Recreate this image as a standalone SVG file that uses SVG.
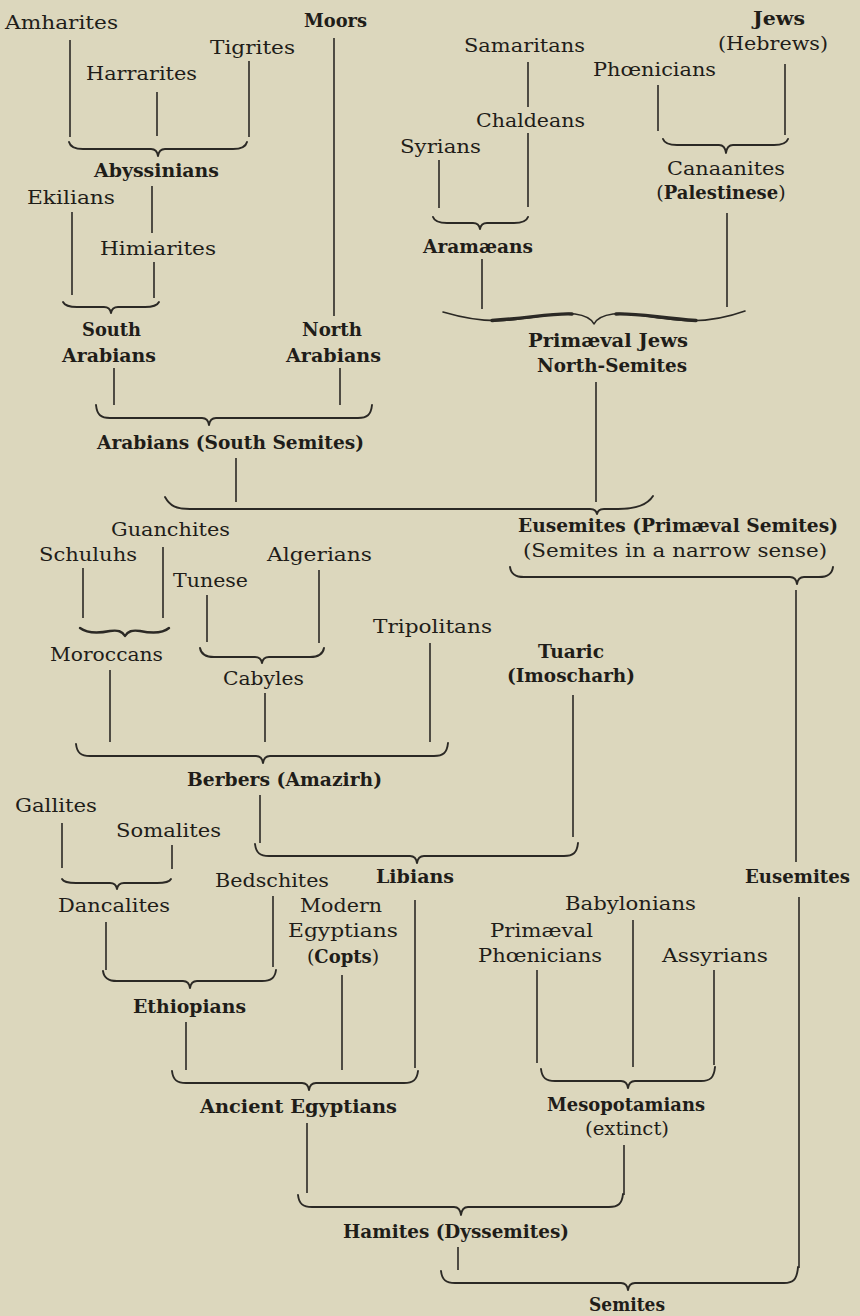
<svg xmlns="http://www.w3.org/2000/svg" width="860" height="1316" viewBox="0 0 860 1316">
<style>
.r{font-family:"DejaVu Serif","Liberation Serif",serif;font-size:19px;fill:#1f1d19}
.b{font-family:"DejaVu Serif","Liberation Serif",serif;font-size:18px;font-weight:bold;fill:#1f1d19}
.l{stroke:#2b2925;stroke-width:1.6;fill:none}
.br{stroke:#2b2925;stroke-width:1.9;fill:none;stroke-linecap:round;stroke-linejoin:round}
</style>
<rect width="860" height="1316" fill="#dcd7bd"/>
<g id="connectors">
<g class="l">
<line x1="70" y1="40" x2="70" y2="137"/>
<line x1="157" y1="92" x2="157" y2="136"/>
<line x1="249" y1="61" x2="249" y2="137"/>
<line x1="334" y1="38" x2="334" y2="316"/>
<line x1="152" y1="186" x2="152" y2="233"/>
<line x1="72" y1="212" x2="72" y2="295"/>
<line x1="154" y1="262" x2="154" y2="298"/>
<line x1="114" y1="368" x2="114" y2="405"/>
<line x1="340" y1="368" x2="340" y2="405"/>
<line x1="236" y1="458" x2="236" y2="502"/>
<line x1="528" y1="62" x2="528" y2="107"/>
<line x1="528" y1="133" x2="528" y2="207"/>
<line x1="439" y1="160" x2="439" y2="208"/>
<line x1="658" y1="85" x2="658" y2="131"/>
<line x1="785" y1="64" x2="785" y2="135"/>
<line x1="727" y1="213" x2="727" y2="307"/>
<line x1="482" y1="259" x2="482" y2="309"/>
<line x1="596" y1="382" x2="596" y2="502"/>
<line x1="83" y1="568" x2="83" y2="618"/>
<line x1="163" y1="547" x2="163" y2="618"/>
<line x1="207" y1="595" x2="207" y2="642"/>
<line x1="319" y1="570" x2="319" y2="643"/>
<line x1="430" y1="643" x2="430" y2="742"/>
<line x1="796" y1="590" x2="796" y2="862"/>
<line x1="573" y1="695" x2="573" y2="837"/>
<line x1="110" y1="670" x2="110" y2="742"/>
<line x1="265" y1="693" x2="265" y2="742"/>
<line x1="260" y1="795" x2="260" y2="843"/>
<line x1="62" y1="823" x2="62" y2="868"/>
<line x1="172" y1="845" x2="172" y2="869"/>
<line x1="273" y1="896" x2="273" y2="967"/>
<line x1="415" y1="900" x2="415" y2="1068"/>
<line x1="106" y1="922" x2="106" y2="970"/>
<line x1="342" y1="975" x2="342" y2="1070"/>
<line x1="186" y1="1022" x2="186" y2="1070"/>
<line x1="633" y1="920" x2="633" y2="1067"/>
<line x1="537" y1="970" x2="537" y2="1063"/>
<line x1="714" y1="970" x2="714" y2="1065"/>
<line x1="799" y1="897" x2="799" y2="1268"/>
<line x1="307" y1="1123" x2="307" y2="1193"/>
<line x1="624" y1="1145" x2="624" y2="1195"/>
<line x1="458" y1="1247" x2="458" y2="1270"/>
</g>
<g class="br">
<path d="M69,142 C70,146 74,149 83,149 L151,149 Q157,149 158,156 Q159,149 165,149 L233,149 C242,149 246,146 247,142"/>
<path d="M63,302 C64,304 68,307 77,307 L104,307 Q110,307 111,313 Q112,307 118,307 L145,307 C154,307 158,304 159,302"/>
<path d="M96,405 C97,415 101,418 110,418 L202,418 Q208,418 209,425 Q210,418 216,418 L358,418 C367,418 371,415 372,405"/>
<path d="M433,217 C434,220 438,223 447,223 L473,223 Q479,223 480,229 Q481,223 487,223 L514,223 C523,223 527,220 528,217"/>
<path d="M663,139 C664,142 668,145 677,145 L719,145 Q725,145 726,153 Q727,145 733,145 L774,145 C783,145 787,142 788,139"/>
<path d="M443,312 C470,320 490,322 510,320 C540,317 560,312 575,314 Q590,316 594,324 Q598,316 613,314 C628,312 648,317 678,320 C698,322 720,320 745,311" stroke-width="1.6"/>
<path d="M492,320.5 C530,318 552,313 572,314" stroke-width="3.4"/>
<path d="M616,314 C636,313 660,318 696,320.5" stroke-width="3.4"/>
<path d="M165,497 C170,506 176,509 190,509 L590,509 Q596,509 597,514 Q598,509 604,509 L618,509 C638,509 648,504 653,496"/>
<path d="M510,567 C511,574 515,577 524,577 L790,577 Q796,577 797,584 Q798,577 804,577 L819,577 C828,577 832,574 833,567"/>
<path d="M80,628 C88,634 100,633 110,631 C118,630 122,631 125,636 C128,631 132,630 140,631 C150,633 162,634 169,628" stroke-width="2.4"/>
<path d="M200,648 C201,654 205,657 214,657 L255,657 Q261,657 262,663 Q263,657 269,657 L310,657 C319,657 323,654 324,648"/>
<path d="M76,744 C77,753 81,756 90,756 L256,756 Q262,756 263,763 Q264,756 270,756 L434,756 C443,756 447,753 448,743"/>
<path d="M255,844 C256,853 260,856 269,856 L410,856 Q416,856 417,863 Q418,856 424,856 L564,856 C573,856 577,853 578,843"/>
<path d="M62,879 C63,881 67,883 76,883 L110,883 Q116,883 117,889 Q118,883 124,883 L157,883 C166,883 170,881 171,879"/>
<path d="M103,971 C104,978 108,981 117,981 L183,981 Q189,981 190,988 Q191,981 197,981 L262,981 C271,981 275,978 276,970"/>
<path d="M172,1071 C173,1080 177,1083 186,1083 L302,1083 Q308,1083 309,1090 Q310,1083 316,1083 L404,1083 C413,1083 417,1080 418,1071"/>
<path d="M541,1069 C542,1078 546,1081 555,1081 L621,1081 Q627,1081 628,1088 Q629,1081 635,1081 L701,1081 C710,1081 714,1078 715,1067"/>
<path d="M298,1195 C299,1204 303,1207 312,1207 L454,1207 Q460,1207 461,1215 Q462,1207 468,1207 L609,1207 C618,1207 622,1204 623,1194"/>
<path d="M441,1271 C442,1280 446,1283 455,1283 L621,1283 Q627,1283 628,1290 Q629,1283 635,1283 L784,1283 C793,1283 797,1280 798,1267"/>
</g>
</g>
<g id="amharites"><text class="r" x="5" y="29" textLength="113" lengthAdjust="spacingAndGlyphs">Amharites</text></g>
<g id="moors"><text class="b" x="304" y="27" textLength="63" lengthAdjust="spacingAndGlyphs">Moors</text></g>
<g id="tigrites"><text class="r" x="210" y="54" textLength="85" lengthAdjust="spacingAndGlyphs">Tigrites</text></g>
<g id="harrarites"><text class="r" x="86" y="80" textLength="111" lengthAdjust="spacingAndGlyphs">Harrarites</text></g>
<g id="abyssinians"><text class="b" x="94" y="177" textLength="125" lengthAdjust="spacingAndGlyphs">Abyssinians</text></g>
<g id="ekilians"><text class="r" x="27" y="204" textLength="88" lengthAdjust="spacingAndGlyphs">Ekilians</text></g>
<g id="himiarites"><text class="r" x="100" y="255" textLength="116" lengthAdjust="spacingAndGlyphs">Himiarites</text></g>
<g id="south-arabians"><text class="b" x="82" y="336" textLength="59" lengthAdjust="spacingAndGlyphs">South</text><text class="b" x="62" y="362" textLength="94" lengthAdjust="spacingAndGlyphs">Arabians</text></g>
<g id="north-arabians"><text class="b" x="302" y="336" textLength="60" lengthAdjust="spacingAndGlyphs">North</text><text class="b" x="286" y="362" textLength="95" lengthAdjust="spacingAndGlyphs">Arabians</text></g>
<g id="arabians"><text class="b" x="97" y="449" textLength="267" lengthAdjust="spacingAndGlyphs">Arabians (South Semites)</text></g>
<g id="samaritans"><text class="r" x="464" y="52" textLength="121" lengthAdjust="spacingAndGlyphs">Samaritans</text></g>
<g id="jews"><text class="b" x="753" y="25" textLength="52" lengthAdjust="spacingAndGlyphs">Jews</text><text class="r" x="718" y="50" textLength="110" lengthAdjust="spacingAndGlyphs">(Hebrews)</text></g>
<g id="phoenicians"><text class="r" x="593" y="76" textLength="123" lengthAdjust="spacingAndGlyphs">Phœnicians</text></g>
<g id="chaldeans"><text class="r" x="476" y="127" textLength="109" lengthAdjust="spacingAndGlyphs">Chaldeans</text></g>
<g id="syrians"><text class="r" x="400" y="153" textLength="81" lengthAdjust="spacingAndGlyphs">Syrians</text></g>
<g id="canaanites"><text class="r" x="667" y="175" textLength="118" lengthAdjust="spacingAndGlyphs">Canaanites</text><text class="r" x="721" y="199" text-anchor="middle">(<tspan class="b">Palestinese</tspan>)</text></g>
<g id="aramaeans"><text class="b" x="423" y="253" textLength="110" lengthAdjust="spacingAndGlyphs">Aramæans</text></g>
<g id="primaeval-jews"><text class="b" x="528" y="347" textLength="160" lengthAdjust="spacingAndGlyphs">Primæval Jews</text><text class="b" x="537" y="372" textLength="150" lengthAdjust="spacingAndGlyphs">North-Semites</text></g>
<g id="eusemites-primaeval"><text class="b" x="518" y="532" textLength="320" lengthAdjust="spacingAndGlyphs">Eusemites (Primæval Semites)</text><text class="r" x="523" y="557" textLength="304" lengthAdjust="spacingAndGlyphs">(Semites in a narrow sense)</text></g>
<g id="guanchites"><text class="r" x="111" y="536" textLength="119" lengthAdjust="spacingAndGlyphs">Guanchites</text></g>
<g id="schuluhs"><text class="r" x="39" y="561" textLength="98" lengthAdjust="spacingAndGlyphs">Schuluhs</text></g>
<g id="algerians"><text class="r" x="267" y="561" textLength="105" lengthAdjust="spacingAndGlyphs">Algerians</text></g>
<g id="tunese"><text class="r" x="173" y="587" textLength="75" lengthAdjust="spacingAndGlyphs">Tunese</text></g>
<g id="moroccans"><text class="r" x="50" y="661" textLength="113" lengthAdjust="spacingAndGlyphs">Moroccans</text></g>
<g id="cabyles"><text class="r" x="223" y="685" textLength="81" lengthAdjust="spacingAndGlyphs">Cabyles</text></g>
<g id="tripolitans"><text class="r" x="373" y="633" textLength="119" lengthAdjust="spacingAndGlyphs">Tripolitans</text></g>
<g id="tuaric"><text class="b" x="538" y="658" textLength="66" lengthAdjust="spacingAndGlyphs">Tuaric</text><text class="b" x="507" y="682" textLength="128" lengthAdjust="spacingAndGlyphs">(Imoscharh)</text></g>
<g id="berbers"><text class="b" x="187" y="786" textLength="195" lengthAdjust="spacingAndGlyphs">Berbers (Amazirh)</text></g>
<g id="gallites"><text class="r" x="15" y="812" textLength="82" lengthAdjust="spacingAndGlyphs">Gallites</text></g>
<g id="somalites"><text class="r" x="116" y="837" textLength="105" lengthAdjust="spacingAndGlyphs">Somalites</text></g>
<g id="dancalites"><text class="r" x="58" y="912" textLength="112" lengthAdjust="spacingAndGlyphs">Dancalites</text></g>
<g id="bedschites"><text class="r" x="215" y="887" textLength="114" lengthAdjust="spacingAndGlyphs">Bedschites</text></g>
<g id="libians"><text class="b" x="376" y="883" textLength="78" lengthAdjust="spacingAndGlyphs">Libians</text></g>
<g id="modern-egyptians"><text class="r" x="300" y="912" textLength="82" lengthAdjust="spacingAndGlyphs">Modern</text><text class="r" x="288" y="937" textLength="110" lengthAdjust="spacingAndGlyphs">Egyptians</text><text class="r" x="343" y="963" text-anchor="middle">(<tspan class="b">Copts</tspan>)</text></g>
<g id="ethiopians"><text class="b" x="133" y="1013" textLength="113" lengthAdjust="spacingAndGlyphs">Ethiopians</text></g>
<g id="ancient-egyptians"><text class="b" x="200" y="1113" textLength="197" lengthAdjust="spacingAndGlyphs">Ancient Egyptians</text></g>
<g id="eusemites"><text class="b" x="745" y="883" textLength="105" lengthAdjust="spacingAndGlyphs">Eusemites</text></g>
<g id="babylonians"><text class="r" x="565" y="910" textLength="131" lengthAdjust="spacingAndGlyphs">Babylonians</text></g>
<g id="primaeval-phoenicians"><text class="r" x="490" y="937" textLength="103" lengthAdjust="spacingAndGlyphs">Primæval</text><text class="r" x="478" y="962" textLength="124" lengthAdjust="spacingAndGlyphs">Phœnicians</text></g>
<g id="assyrians"><text class="r" x="662" y="962" textLength="106" lengthAdjust="spacingAndGlyphs">Assyrians</text></g>
<g id="mesopotamians"><text class="b" x="547" y="1111" textLength="158" lengthAdjust="spacingAndGlyphs">Mesopotamians</text><text class="r" x="585" y="1135" textLength="84" lengthAdjust="spacingAndGlyphs">(extinct)</text></g>
<g id="hamites"><text class="b" x="343" y="1238" textLength="226" lengthAdjust="spacingAndGlyphs">Hamites (Dyssemites)</text></g>
<g id="semites"><text class="b" x="589" y="1311" textLength="76" lengthAdjust="spacingAndGlyphs">Semites</text></g>
</svg>
